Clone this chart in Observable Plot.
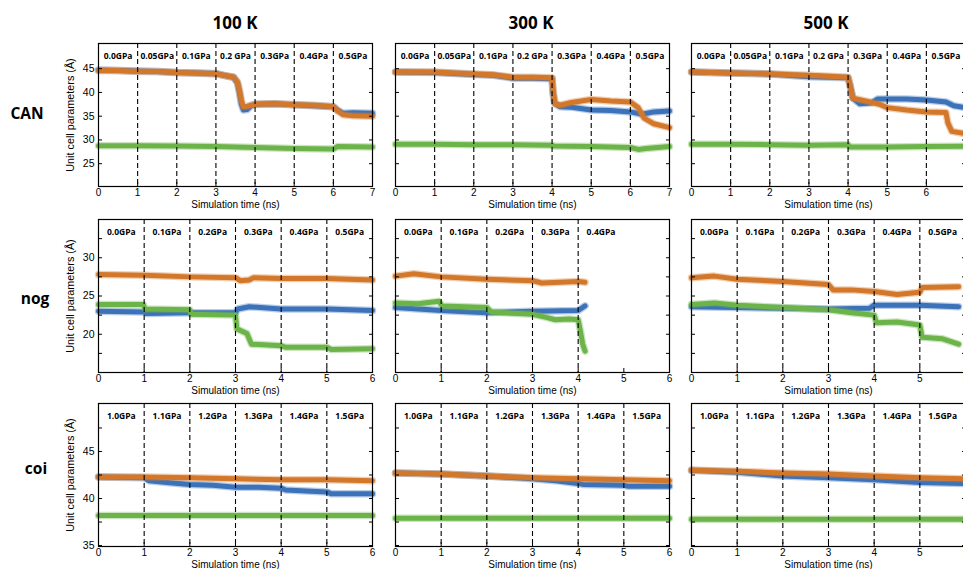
<!DOCTYPE html>
<html><head><meta charset="utf-8">
<script src="https://cdn.jsdelivr.net/npm/d3@7"></script>
<script src="https://cdn.jsdelivr.net/npm/@observablehq/plot@0.6"></script>
<style>
html,body{margin:0;padding:0;background:#fff;}
#root{position:relative;width:963px;height:569px;overflow:hidden;background:#fff;}
.panel{position:absolute;}
.panel svg{max-width:none !important;}
.head{position:absolute;font-family:"Open Sans",sans-serif;font-weight:700;white-space:nowrap;transform:translate(-50%,-50%);color:#000;}
</style></head><body><div id="root"></div>
<script>
// ---------- data ----------
const temperatures = ["100 K", "300 K", "500 K"];
const systems = ["CAN", "nog", "coi"];
const axisTitleY = "Unit cell parameters (Å)";
const axisTitleX = "Simulation time (ns)";

const pressuresCAN = ["0.0GPa", "0.05GPa", "0.1GPa", "0.2 GPa", "0.3GPa", "0.4GPa", "0.5GPa"];
const pressuresNog = ["0.0GPa", "0.1GPa", "0.2GPa", "0.3GPa", "0.4GPa", "0.5GPa"];
const pressuresNog300 = ["0.0GPa", "0.1GPa", "0.2GPa", "0.3GPa", "0.4GPa"];
const pressuresCoi = ["1.0GPa", "1.1GPa", "1.2GPa", "1.3GPa", "1.4GPa", "1.5GPa"];

const xTicksCAN = [0, 1, 2, 3, 4, 5, 6, 7];
const xTicksNogCoi = [0, 1, 2, 3, 4, 5, 6];
const yTicksCAN = [25, 30, 35, 40, 45];
const yLabelsCAN = [25, 30, 35, 40, 45];
const yTicksNog = [17.5, 20, 22.5, 25, 27.5, 30, 32.5];
const yLabelsNog = [20, 25, 30];
const yTicksCoi = [35, 37.5, 40, 42.5, 45, 47.5];
const yLabelsCoi = [35, 40, 45];

// [time (ns), parameter (Å)]
const CAN100_blue = [[0,44.7],[0.5,44.6],[1,44.5],[1.5,44.4],[2,44.2],[2.5,44.1],[3,44.0],[3.2,43.6],[3.45,43.2],[3.55,42.0],[3.6,40.0],[3.65,37.5],[3.7,36.3],[3.8,36.4],[3.9,37.2],[4,37.5],[4.5,37.6],[5,37.4],[5.5,37.2],[6,37.0],[6.1,36.3],[6.25,35.6],[6.5,35.7],[7,35.6]];
const CAN100_green = [[0,28.8],[1,28.8],[2,28.7],[3,28.6],[4,28.4],[5,28.2],[6,28.1],[6.1,28.6],[7,28.5]];
const CAN100_orange = [[0,44.6],[0.5,44.6],[1,44.4],[1.5,44.4],[2,44.2],[2.5,44.1],[3,43.9],[3.2,43.6],[3.45,43.2],[3.55,42.2],[3.6,40.5],[3.65,38.3],[3.7,37.0],[3.8,37.1],[4,37.5],[4.5,37.6],[5,37.4],[5.5,37.3],[6,37.0],[6.1,36.2],[6.25,35.3],[6.5,35.1],[7,35.0]];

const CAN300_blue = [[0,44.3],[1,44.2],[2,43.8],[2.5,43.6],[3,43.0],[3.5,43.0],[4,42.9],[4.02,40.0],[4.06,37.8],[4.2,37.0],[4.5,36.9],[5,36.3],[5.5,36.2],[6,35.9],[6.3,35.4],[6.6,35.9],[7,36.1]];
const CAN300_green = [[0,29.1],[1,29.1],[2,29.0],[3,29.0],[4,28.9],[4.05,28.7],[5,28.6],[6,28.4],[6.2,28.0],[6.4,28.2],[7,28.6]];
const CAN300_orange = [[0,44.3],[1,44.3],[2,43.9],[2.5,43.7],[3,43.2],[3.5,43.2],[4,43.1],[4.03,40.2],[4.08,37.6],[4.2,37.3],[4.5,37.9],[5,38.5],[5.5,38.2],[6,38.0],[6.2,36.8],[6.35,34.6],[6.6,33.4],[7,32.6]];

const CAN500_blue = [[0,44.3],[1,44.1],[2,43.9],[3,43.3],[4,43.1],[4.05,41.5],[4.12,38.8],[4.3,37.6],[4.6,37.8],[4.75,38.6],[5,38.6],[5.5,38.6],[6,38.4],[6.5,38.0],[6.7,37.2],[7,36.8]];
const CAN500_green = [[0,29.1],[1,29.1],[2,29.0],[3,28.9],[4,29.0],[4.05,28.5],[5,28.5],[6,28.6],[7,28.7]];
const CAN500_orange = [[0,44.3],[1,44.1],[2,43.9],[3,43.6],[4,43.2],[4.05,41.5],[4.12,38.8],[4.5,38.1],[4.8,37.5],[5,36.8],[5.5,36.3],[6,35.9],[6.5,35.8],[6.55,33.6],[6.65,31.8],[7,31.3]];

const nog100_blue = [[0,23.0],[1,22.9],[1.05,22.7],[2,22.8],[3,22.8],[3.05,23.3],[3.3,23.6],[4,23.3],[5,23.3],[6,23.1]];
const nog100_green = [[0,23.9],[0.98,23.9],[1.02,23.3],[2,23.2],[2.03,22.6],[3,22.5],[3.03,20.7],[3.25,20.1],[3.35,18.7],[4,18.5],[4.1,18.3],[5,18.3],[5.1,18.0],[6,18.1]];
const nog100_orange = [[0,27.8],[1,27.7],[2,27.5],[3,27.4],[3.1,27.0],[3.3,27.1],[3.4,27.4],[4,27.3],[5,27.3],[6,27.1]];

const nog300_blue = [[0,23.5],[1,23.1],[2,22.8],[3,23.0],[4,23.1],[4.15,23.7]];
const nog300_green = [[0,24.1],[0.5,24.0],[0.95,24.3],[1.02,23.7],[2,23.5],[2.1,22.9],[3,22.6],[3.3,22.2],[3.5,21.9],[3.8,22.0],[4.0,21.9],[4.05,20.4],[4.1,18.7],[4.15,17.8]];
const nog300_orange = [[0,27.6],[0.4,27.9],[1,27.5],[2,27.2],[3,27.0],[3.2,26.7],[4,26.9],[4.15,26.8]];

const nog500_blue = [[0,23.6],[1,23.5],[2,23.4],[3,23.3],[3.9,23.4],[4,23.8],[5,23.8],[5.85,23.6]];
const nog500_green = [[0,23.9],[0.5,24.1],[1,23.8],[2,23.5],[3,23.2],[3.5,22.8],[4,22.5],[4.05,21.5],[4.5,21.6],[5,21.2],[5.05,19.6],[5.5,19.4],[5.85,18.7]];
const nog500_orange = [[0,27.4],[0.5,27.6],[1,27.2],[2,26.9],[3,26.5],[3.1,25.8],[3.5,25.8],[4,25.6],[4.5,25.2],[5,25.5],[5.05,26.1],[5.85,26.2]];

const coi100_blue = [[0,42.3],[1,42.2],[1.1,41.9],[1.5,41.7],[2,41.5],[2.5,41.4],[3,41.2],[3.5,41.2],[4,41.1],[4.1,40.9],[5,40.7],[5.1,40.5],[6,40.5]];
const coi100_green = [[0,38.2],[3,38.2],[6,38.2]];
const coi100_orange = [[0,42.3],[1,42.3],[2,42.2],[3,42.1],[4,42.0],[5,42.0],[6,41.9]];

const coi300_blue = [[0,42.7],[1,42.6],[2,42.4],[3,42.1],[3.5,41.9],[4,41.6],[4.1,41.5],[5,41.4],[5.1,41.3],[6,41.3]];
const coi300_green = [[0,37.9],[3,37.9],[6,37.9]];
const coi300_orange = [[0,42.7],[1,42.6],[2,42.4],[3,42.2],[4,42.1],[5,42.0],[6,41.9]];

const coi500_blue = [[0,43.0],[1,42.8],[2,42.4],[3,42.2],[4,42.0],[5,41.7],[6,41.6]];
const coi500_green = [[0,37.8],[3,37.8],[6,37.8]];
const coi500_orange = [[0,43.0],[1,42.9],[2,42.7],[3,42.6],[4,42.4],[5,42.2],[6,42.1]];

// ---------- layout / style ----------
const COLORS = {blue: "#3b72b9", green: "#6cb44a", orange: "#d3782b"};
const colLeft = [98.3, 395, 691];
const rowTop = [43.3, 219, 402.7];
const rowH = [143, 153, 143];
const frameW = 274;
const ML = 42, MR = 6, MT = 4, MB = 28;

const rows = [
  {xMax: 7, yDomain: [20.2, 50.3], yTicks: yTicksCAN, yLabels: yLabelsCAN, xTicks: xTicksCAN,
   panels: [
     {pressures: pressuresCAN, dashes: [1,2,3,4,5,6], s: [CAN100_blue, CAN100_green, CAN100_orange]},
     {pressures: pressuresCAN, dashes: [1,2,3,4,5,6], s: [CAN300_blue, CAN300_green, CAN300_orange]},
     {pressures: pressuresCAN, dashes: [1,2,3,4,5,6], s: [CAN500_blue, CAN500_green, CAN500_orange]}
   ]},
  {xMax: 6, yDomain: [15, 35], yTicks: yTicksNog, yLabels: yLabelsNog, xTicks: xTicksNogCoi,
   panels: [
     {pressures: pressuresNog, dashes: [1,2,3,4,5], s: [nog100_blue, nog100_green, nog100_orange]},
     {pressures: pressuresNog300, dashes: [1,2,3,4], s: [nog300_blue, nog300_green, nog300_orange]},
     {pressures: pressuresNog, dashes: [1,2,3,4,5], s: [nog500_blue, nog500_green, nog500_orange]}
   ]},
  {xMax: 6, yDomain: [34.9, 50.1], yTicks: yTicksCoi, yLabels: yLabelsCoi, xTicks: xTicksNogCoi,
   panels: [
     {pressures: pressuresCoi, dashes: [1,2,3,4,5], s: [coi100_blue, coi100_green, coi100_orange]},
     {pressures: pressuresCoi, dashes: [1,2,3,4,5], s: [coi300_blue, coi300_green, coi300_orange]},
     {pressures: pressuresCoi, dashes: [1,2,3,4,5], s: [coi500_blue, coi500_green, coi500_orange]}
   ]}
];

const root = document.getElementById("root");
const sansFont = "'Liberation Sans', Arial, Helvetica, sans-serif";
const boldFont = "'Open Sans', sans-serif";

function seriesMarks(data, color) {
  return [
    Plot.line(data, {x: d => d[0], y: d => d[1], stroke: color, strokeWidth: 7.5, strokeOpacity: 0.35, strokeLinejoin: "round"}),
    Plot.line(data, {x: d => d[0], y: d => d[1], stroke: color, strokeWidth: 5, strokeLinejoin: "round"})
  ];
}

rows.forEach((row, ri) => {
  row.panels.forEach((p, ci) => {
    const h = rowH[ri];
    const W = ML + frameW + MR, H = MT + h + MB;
    const marks = [
      ...seriesMarks(p.s[0], COLORS.blue),
      ...seriesMarks(p.s[1], COLORS.green),
      ...seriesMarks(p.s[2], COLORS.orange),
      Plot.ruleX(p.dashes, {x: d => d, stroke: "#000", strokeWidth: 1.1, strokeDasharray: "5,3"}),
      Plot.text(p.pressures, {x: (d, i) => i + 0.5, frameAnchor: "top", dy: 9, text: d => d,
        fontWeight: "bold", fontSize: 8.5, fontFamily: boldFont, fill: "#000"}),
      Plot.axisX(row.xTicks, {anchor: "bottom", tickSize: -4, tickPadding: 6, label: null, fontSize: 10}),
      Plot.axisY(row.yTicks, {anchor: "left", tickSize: -4, tickPadding: 8, label: null, fontSize: 10.5,
        tickFormat: d => (ci === 0 && row.yLabels.includes(d)) ? String(d) : ""}),
      Plot.axisY(row.yTicks, {anchor: "right", tickSize: -4, tickPadding: 8, label: null, tickFormat: () => ""}),
      Plot.text([axisTitleX], {frameAnchor: "bottom", lineAnchor: "middle", dy: 18.5, text: d => d, fontSize: 10, fill: "#000"}),
      Plot.frame({stroke: "#000", strokeWidth: 1.2})
    ];
    if (ci === 0) {
      marks.push(Plot.text([axisTitleY], {frameAnchor: "left", textAnchor: "middle", lineAnchor: "middle",
        dx: -27.5, rotate: -90, text: d => d, fontSize: 10.8, fill: "#000"}));
    }
    const svg = Plot.plot({
      width: W,
      height: H,
      marginLeft: ML, marginRight: MR, marginTop: MT, marginBottom: MB,
      x: {domain: [0, row.xMax]},
      y: {domain: row.yDomain},
      style: {fontFamily: sansFont, fontSize: "10.5px", background: "transparent", overflow: "visible", color: "#000", maxWidth: "none"},
      marks
    });
    svg.style.maxWidth = "none";
    svg.style.width = W + "px";
    svg.style.height = H + "px";
    const wrap = document.createElement("div");
    wrap.className = "panel";
    wrap.style.left = (colLeft[ci] - ML) + "px";
    wrap.style.top = (rowTop[ri] - MT) + "px";
    wrap.style.width = W + "px";
    wrap.style.height = H + "px";
    wrap.appendChild(svg);
    root.appendChild(wrap);
  });
});

// column and row headings
const colCenters = [235, 531, 826];
temperatures.forEach((t, i) => {
  const d = document.createElement("div");
  d.className = "head";
  d.style.fontSize = "17px";
  d.style.left = colCenters[i] + "px";
  d.style.top = "22px";
  d.textContent = t;
  root.appendChild(d);
});
const rowHeadPos = [[27, 113], [35, 298], [36, 468]];
systems.forEach((s, i) => {
  const d = document.createElement("div");
  d.className = "head";
  d.style.fontSize = "15.5px";
  d.style.left = rowHeadPos[i][0] + "px";
  d.style.top = rowHeadPos[i][1] + "px";
  d.textContent = s;
  root.appendChild(d);
});
</script></body></html>
